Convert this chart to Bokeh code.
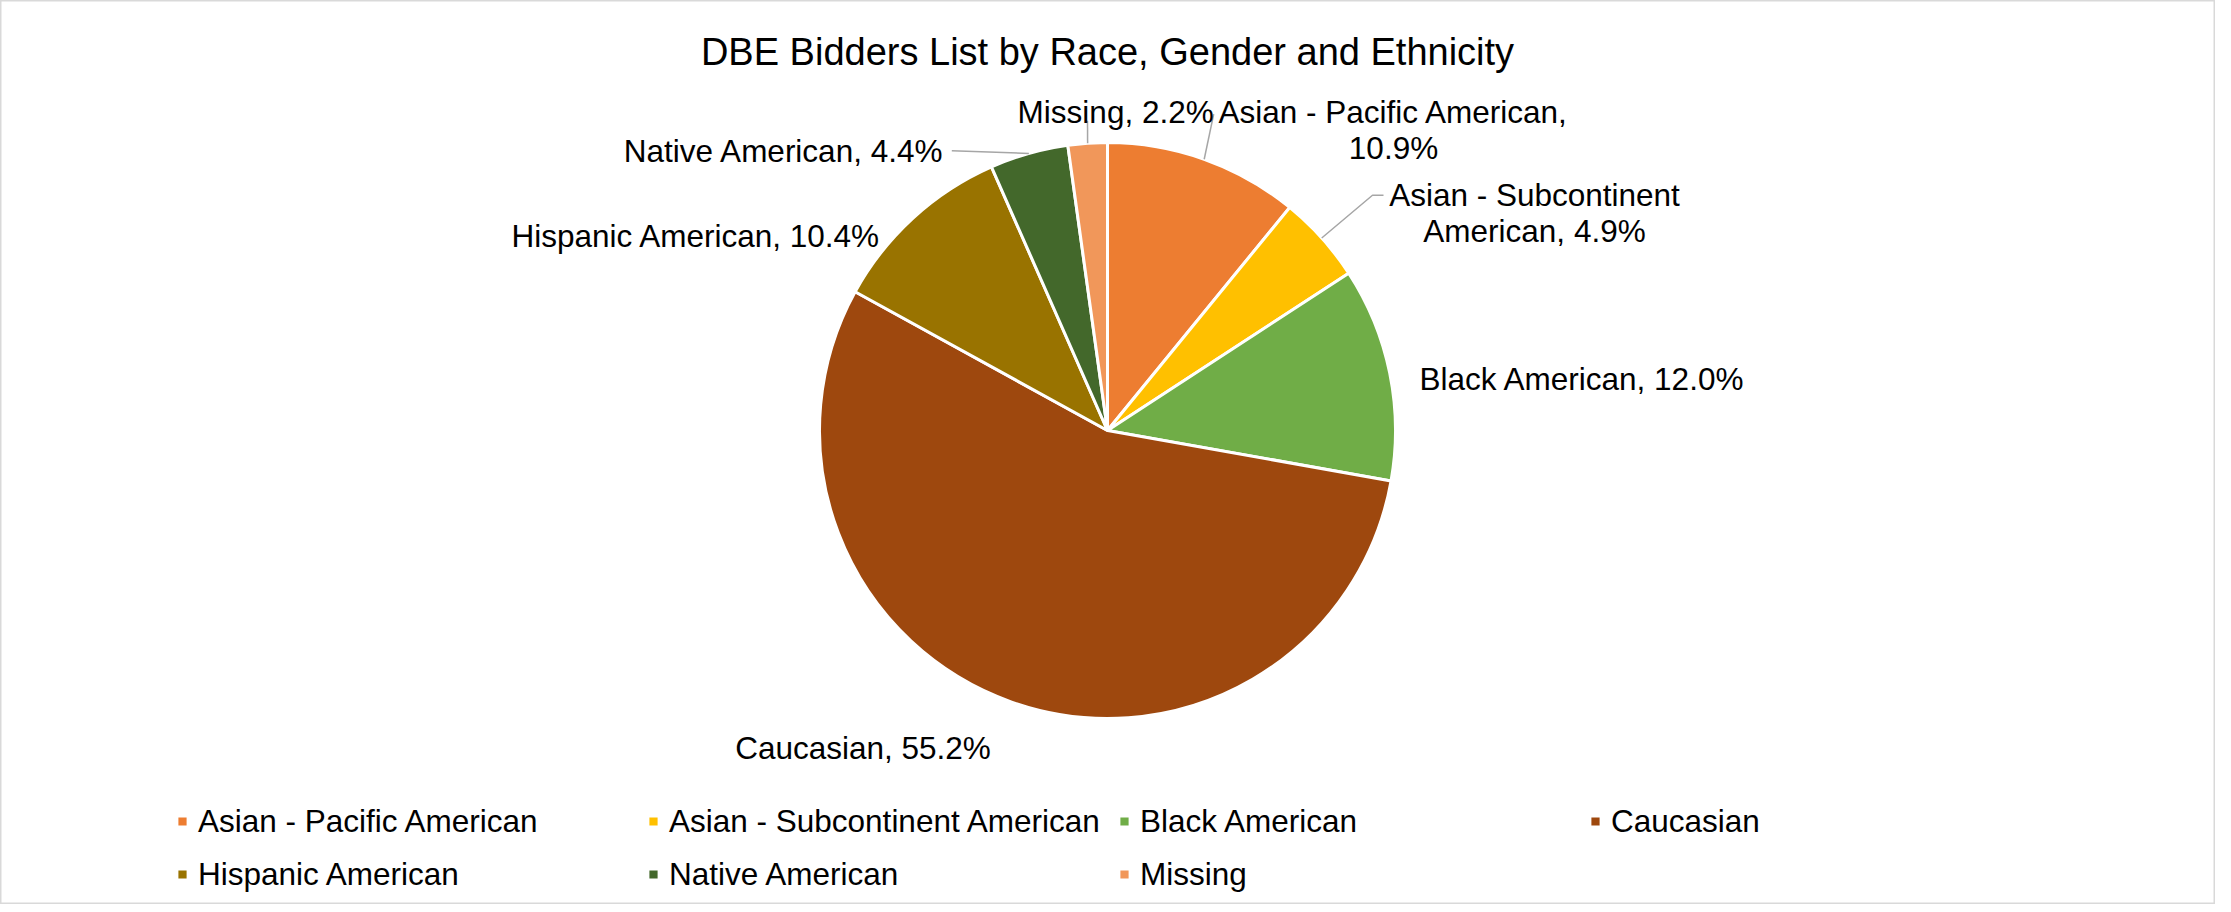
import math
from bokeh.plotting import figure
from bokeh.models import ColumnDataSource, Range1d, Label
from bokeh.core.properties import value
from bokeh.embed import file_html
from bokeh.resources import INLINE

# ---------------- data ----------------
title_text = "DBE Bidders List by Race, Gender and Ethnicity"
categories = ["Asian - Pacific American", "Asian - Subcontinent American", "Black American",
              "Caucasian", "Hispanic American", "Native American", "Missing"]
percentages = [10.9, 4.9, 12.0, 55.2, 10.4, 4.4, 2.2]

# ---------------- styles ----------------
colors = ["#ED7D31", "#FFC000", "#70AD47", "#9E480E", "#997300", "#43682B", "#F1975A"]
FONT = "Liberation Sans"
LABEL_SIZE = "31.5px"
TEXT_COLOR = "#000000"
LEADER_COLOR = "#A6A6A6"

# ---------------- layout (screen px of the page) ----------------
W, H = 2215, 904
OX, OY = 8, 912


def X(sx):
    return sx - OX


def Y(sy):
    return OY - sy


PIE_CX, PIE_CY, PIE_R = 1115, 438, 288
LINE_GAP = 36
# per slice: label anchor x, first baseline y, alignment, words on first line (None = single line),
# leader start points (screen) or empty
label_layout = [
    (1401, 119.3, "center", 4, [(1221.2, 121.7)]),
    (1542, 202.7, "center", 3, [(1391, 202.7), (1380, 202.7)]),
    (1427, 386.0, "left", None, []),
    (870.5, 755.0, "center", None, []),
    (888.3, 243.3, "right", None, []),
    (951.7, 158.3, "right", None, [(959.3, 158.3)]),
    (1221.2, 119.3, "right", None, [(1095, 128.3)]),
]

p = figure(width=W, height=H, output_backend="svg", toolbar_location=None,
           x_range=Range1d(0, W), y_range=Range1d(0, H), min_border=0)
p.axis.visible = False
p.grid.visible = False
p.outline_line_color = "#D9D9D9"
p.outline_line_width = 2
p.background_fill_color = "white"
p.border_fill_color = "white"

total = sum(percentages)
starts, ends, mids = [], [], []
cum = 0.0
for v in percentages:
    a0 = math.pi / 2 - 2 * math.pi * cum / total
    cum += v
    a1 = math.pi / 2 - 2 * math.pi * cum / total
    starts.append(a0)
    ends.append(a1)
    mids.append((a0 + a1) / 2)

src = ColumnDataSource(dict(cat=categories, pct=percentages, start=starts, end=ends, color=colors))
p.wedge(x=X(PIE_CX), y=Y(PIE_CY), radius=PIE_R, start_angle="start", end_angle="end",
        direction="clock", fill_color="color", line_color="white", line_width=3,
        legend_field="cat", source=src)

# leader lines: from label side to pie edge at the slice's mid angle
lx, ly = [], []
for i, lay in enumerate(label_layout):
    pts = lay[4]
    if not pts:
        continue
    ex = X(PIE_CX) + PIE_R * math.cos(mids[i])
    ey = Y(PIE_CY) + PIE_R * math.sin(mids[i])
    xs = [X(a) for a, b in pts] + [ex]
    ys = [Y(b) for a, b in pts] + [ey]
    lx.append(xs)
    ly.append(ys)
p.multi_line(xs=lx, ys=ly, line_color=LEADER_COLOR, line_width=1.5)

# data labels
tx, ty, tt, ta = [], [], [], []
for i, (cat, v) in enumerate(zip(categories, percentages)):
    full = f"{cat}, {v:.1f}%"
    ax, ay, align, nwords, _ = label_layout[i]
    if nwords is None:
        lines = [full]
    else:
        words = full.split(" ")
        lines = [" ".join(words[:nwords]), " ".join(words[nwords:])]
    for k, line in enumerate(lines):
        tx.append(X(ax))
        ty.append(Y(ay + k * LINE_GAP))
        tt.append(line)
        ta.append(align)
p.text(x=tx, y=ty, text=tt, text_align=ta, text_baseline="alphabetic",
       text_font=value(FONT), text_font_size=LABEL_SIZE, text_color=TEXT_COLOR)

# title
p.add_layout(Label(x=X(1115), y=Y(59.3), text=title_text, text_align="center",
                   text_baseline="alphabetic", text_font=FONT, text_font_size="38px",
                   text_color=TEXT_COLOR))

# legend
lg = p.legend[0]
lg.orientation = "horizontal"
lg.ncols = 4
lg.glyph_width = 14
lg.glyph_height = 14
lg.label_standoff = 9
lg.label_width = 433
lg.label_height = 38
lg.spacing = 15
lg.padding = 0
lg.margin = 0
lg.border_line_color = None
lg.background_fill_alpha = 0
lg.label_text_font = FONT
lg.label_text_font_size = LABEL_SIZE
lg.label_text_color = TEXT_COLOR
lg.location = (175, 11)

open("out.html", "w").write(file_html(p, INLINE))
